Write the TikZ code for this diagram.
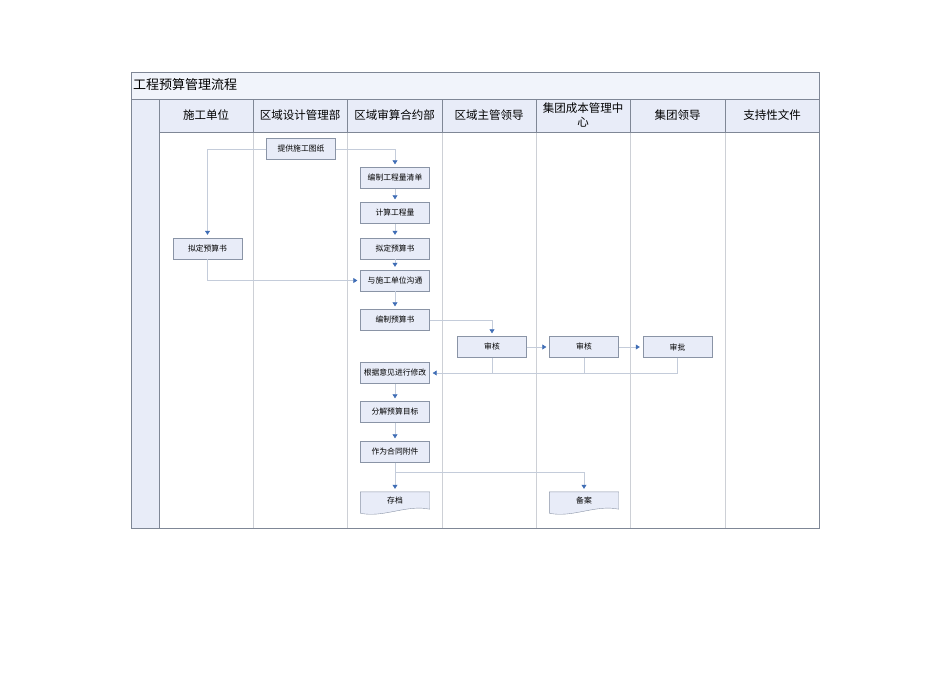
\documentclass[tikz,border=0pt]{standalone}
\usepackage{fontspec}
\newfontfamily\cjk{Noto Sans CJK SC}
\usetikzlibrary{positioning, calc, arrows.meta}
\definecolor{lanefill}{HTML}{E8ECF8}
\definecolor{boxline}{HTML}{8A94A6}
\definecolor{flowline}{HTML}{C4CCDA}
\definecolor{tipblue}{HTML}{3F6DB5}
\definecolor{frameline}{HTML}{7F8796}
\definecolor{laneline}{HTML}{CDD0D6}
% document shape with a wavy bottom round a node
\newcommand\docpath[1]{\filldraw[draw=boxline, fill=lanefill]
  (#1.north west) -- (#1.north east) -- ($(#1.south east)+(0,-1)$)
  .. controls ($(#1.south)+(12,-6)$) and ($(#1.south)+(-12,8)$) .. ($(#1.south west)+(0,3)$) -- cycle;}

\begin{document}
\begin{tikzpicture}[x=1pt, y=-1pt,
  taskbox/.style={draw=boxline, fill=lanefill, minimum width=69pt, minimum height=21pt, inner sep=0pt, font=\cjk\fontsize{7.8}{9}\selectfont},
  docbox/.style={minimum width=69pt, minimum height=18pt, inner sep=0pt, font=\cjk\fontsize{7.8}{9}\selectfont},
  lanehead/.style={font=\cjk\fontsize{11.5}{12}\selectfont, align=center},
  flow/.style={draw=flowline, line width=0.6pt, -{Triangle[length=4pt, width=5pt, color=tipblue]}, shorten >=3pt}]
\useasboundingbox (0,0) rectangle (950,672);
% Frame and lanes
\fill[lanefill!60] (131,72) rectangle (819,99);
\fill[lanefill] (131,99) rectangle (819,132);
\fill[lanefill] (131,132) rectangle (159,528);
\foreach \x in {253,347,442,536,630,725}
  \draw[laneline, line width=0.6pt] (\x,132) -- (\x,528);
\foreach \x in {159,253,347,442,536,630,725}
  \draw[frameline, line width=0.5pt] (\x,99) -- (\x,132);
\draw[frameline, line width=0.5pt] (159,132) -- (159,528);
\draw[frameline, line width=0.5pt] (131,99) -- (819,99);
\draw[frameline, line width=0.5pt] (159,132) -- (819,132);
\draw[frameline, line width=0.6pt] (131,72) rectangle (819,528);
% Title and lane heads
\node[anchor=west, inner sep=1pt, font=\cjk\fontsize{13}{14}\selectfont] (title) at (132,85) {工程预算管理流程};
\node[lanehead] (h1) at (206,115) {施工单位};
\node[lanehead] (h2) at (300,115) {区域设计管理部};
\node[lanehead] (h3) at (394.5,115) {区域审算合约部};
\node[lanehead] (h4) at (489,115) {区域主管领导};
\node[lanehead, font=\cjk\fontsize{11.5}{13.5}\selectfont] (h5) at (583,115) {集团成本管理中\\心};
\node[lanehead] (h6) at (677.5,115) {集团领导};
\node[lanehead] (h7) at (772,115) {支持性文件};
% Steps
\node[taskbox] (tuzhi) at (301,149) {提供施工图纸};
\node[taskbox] (qingdan) at (395,178) {编制工程量清单};
\node[taskbox] (jisuan) at (395,213) {计算工程量};
\node[taskbox] (niding) at (395,248.5) {拟定预算书};
\node[taskbox] (nidingL) at (207.5,248.5) {拟定预算书};
\node[taskbox] (goutong) at (395,280.5) {与施工单位沟通};
\node[taskbox] (yusuan) at (395,320) {编制预算书};
\node[taskbox] (shenheA) at (492,347) {审核};
\node[taskbox] (shenheB) at (584,347) {审核};
\node[taskbox] (shenpi) at (677.5,347) {审批};
\node[taskbox] (xiugai) at (395,373) {根据意见进行修改};
\node[taskbox] (fenjie) at (395,412) {分解预算目标};
\node[taskbox] (fujian) at (395,452) {作为合同附件};
\node[docbox] (cundang) at (395,501) {};
\node[docbox] (beian) at (584,501) {};
\docpath{cundang}
\docpath{beian}
\node[docbox] at (cundang) {存档};
\node[docbox] at (beian) {备案};
% Connectors
\draw[flow] (tuzhi.west) -| (nidingL.north);
\draw[flow] (tuzhi.east) -| (qingdan.north);
\draw[flow] (qingdan) -- (jisuan);
\draw[flow] (jisuan) -- (niding);
\draw[flow] (niding) -- (goutong);
\draw[flow] (nidingL.south) |- (goutong.west);
\draw[flow] (goutong) -- (yusuan);
\draw[flow] (yusuan.east) -| (shenheA.north);
\draw[flow] (shenheA) -- (shenheB);
\draw[flow] (shenheB) -- (shenpi);
\draw[flow] (shenpi.south) |- (xiugai.east);
\draw[draw=flowline, line width=0.6pt] (shenheA.south) -- (shenheA.south |- xiugai.east);
\draw[draw=flowline, line width=0.6pt] (shenheB.south) -- (shenheB.south |- xiugai.east);
\draw[flow] (xiugai) -- (fenjie);
\draw[flow] (fenjie) -- (fujian);
\draw[flow] (fujian) -- (cundang);
\coordinate (fork) at (395,472);
\draw[flow] (fork) -| (beian.north);
\end{tikzpicture}
\end{document}
